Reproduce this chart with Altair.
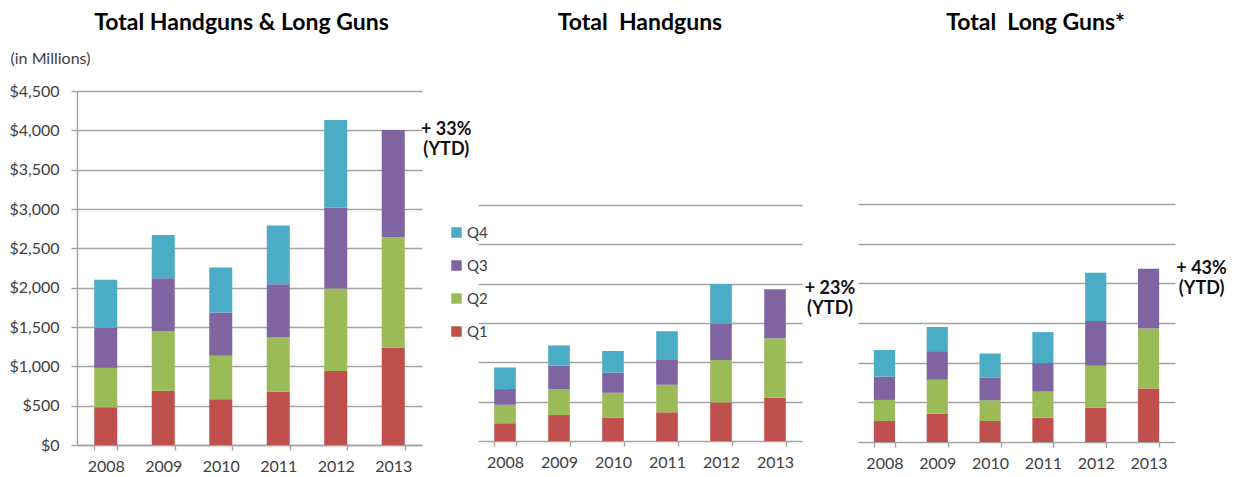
import altair as alt
import pandas as pd

years = ["2008", "2009", "2010", "2011", "2012", "2013"]
quarters = ["Q1", "Q2", "Q3", "Q4"]
colors = ["#C0504D", "#9BBB59", "#8064A2", "#4BACC6"]

# Total Handguns & Long Guns (in $ millions)
total_q1 = [480, 690, 580, 680, 940, 1240]
total_q2 = [500, 760, 555, 685, 1050, 1400]
total_q3 = [510, 670, 550, 680, 1025, 1365]
total_q4 = [610, 550, 570, 745, 1115, None]

# Total Handguns
hand_q1 = [225, 330, 300, 365, 490, 550]
hand_q2 = [235, 330, 315, 350, 540, 755]
hand_q3 = [200, 300, 255, 315, 460, 625]
hand_q4 = [275, 255, 275, 365, 505, None]

# Total Long Guns
long_q1 = [265, 355, 265, 305, 435, 675]
long_q2 = [265, 430, 260, 330, 525, 755]
long_q3 = [295, 360, 285, 360, 565, 755]
long_q4 = [335, 305, 305, 390, 610, None]

titles = ["Total Handguns & Long Guns", "Total\u00a0 Handguns", "Total\u00a0 Long Guns*"]
annotations = [["+ 33%", "(YTD)"], ["+ 23%", "(YTD)"], ["+ 43%", "(YTD)"]]

FONT = "Lato"
GRID = "#a3a3a3"
LABEL = "#404040"


def make_df(q1, q2, q3, q4):
    rows = []
    for qi, (q, vals) in enumerate(zip(quarters, [q1, q2, q3, q4])):
        for y, v in zip(years, vals):
            if v is not None:
                rows.append({"year": y, "quarter": q, "qi": qi, "value": v})
    return pd.DataFrame(rows)


def panel(series, width, height, ymax, title, title_dx, title_offset, ann, ann_dx,
          main_axis=False, legend=None):
    df = make_df(*series)
    last_total = sum(v[-1] for v in series if v[-1] is not None)
    if main_axis:
        y_axis = alt.Axis(values=list(range(0, 4501, 500)), format="$,d",
                          labelOverlap=False,
                          title="(in Millions)", titleAngle=0, titleAlign="left",
                          titleBaseline="middle", titleX=-67, titleY=-33,
                          titleFontSize=16, titleFontWeight="normal", titleColor=LABEL,
                          titleFont=FONT, domain=True, ticks=True, tickSize=6,
                          labelPadding=12)
    else:
        y_axis = alt.Axis(values=list(range(500, 3001, 500)), labels=False, ticks=False,
                          domain=False, title=None, grid=True)
    x_axis = alt.Axis(labelAngle=0, tickBand="extent", grid=False, tickSize=5,
                      labelPadding=8, title=None)
    x_scale = alt.Scale(paddingInner=0.6, paddingOuter=0.3)
    y_scale = alt.Scale(domain=[0, ymax], nice=False)
    bars = alt.Chart(df).mark_bar().encode(
        x=alt.X("year:N", sort=years, title=None, scale=x_scale, axis=x_axis),
        y=alt.Y("value:Q", stack="zero", title=None, scale=y_scale, axis=y_axis),
        color=alt.Color("quarter:N",
                        scale=alt.Scale(domain=quarters[::-1], range=colors[::-1]),
                        sort=quarters[::-1], legend=legend),
        order=alt.Order("qi:Q", sort="ascending"),
    )
    ann_df = pd.DataFrame({"year": [years[-1]], "total": [last_total]})
    text = alt.Chart(ann_df).mark_text(
        text=ann, font=FONT, fontSize=18, fontWeight="bold", color="#111111",
        align="center", baseline="alphabetic", lineHeight=20, dx=ann_dx, dy=5,
    ).encode(x=alt.X("year:N", sort=years, title=None, scale=x_scale, axis=x_axis),
             y=alt.Y("total:Q", title=None, scale=y_scale, axis=y_axis))
    return alt.layer(bars, text).properties(
        width=width, height=height,
        title=alt.TitleParams(title, font=FONT, fontSize=23, fontWeight="bold",
                              color="#000000", dx=title_dx, offset=title_offset),
    )


legend = alt.Legend(orient="none", legendX=-29, legendY=134, title=None,
                    symbolType="square", symbolSize=110, symbolStrokeWidth=0,
                    labelFont=FONT, labelFontSize=15, labelColor=LABEL,
                    labelOffset=3, rowPadding=17)

left = panel([total_q1, total_q2, total_q3, total_q4], 345, 354, 4500, titles[0], -8, 15,
             annotations[0], 53, main_axis=True)
mid = panel([hand_q1, hand_q2, hand_q3, hand_q4], 324, 350, 4450, titles[1], 0, 56,
            annotations[1], 55, legend=legend)
right = panel([long_q1, long_q2, long_q3, long_q4], 317, 351, 4425, titles[2], 19, 56,
              annotations[2], 53)

chart = alt.hconcat(left, mid, right, spacing=56, bounds="flush").resolve_legend(
    color="independent"
).configure(
    padding={"left": 0, "top": 4, "right": 0, "bottom": 0},
    background="white",
).configure_view(stroke=None).configure_axis(
    labelFont=FONT, labelFontSize=16, labelColor=LABEL,
    gridColor=GRID, gridWidth=1.4, domainColor=GRID, domainWidth=1.4,
    tickColor=GRID, tickWidth=1.4,
)

chart.save("out.html", embed_options={"renderer": "svg", "actions": False})
